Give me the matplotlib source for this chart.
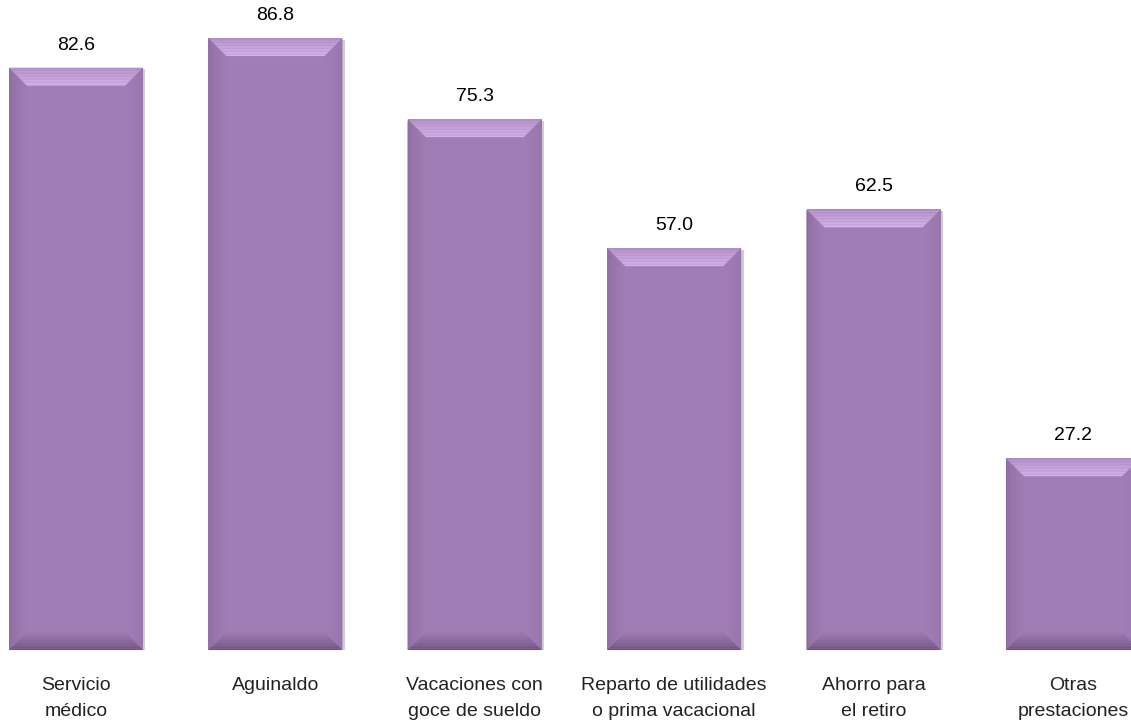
import matplotlib.pyplot as plt
from matplotlib.patches import Polygon
import numpy as np

categories = ['Servicio\nmédico', 'Aguinaldo', 'Vacaciones con\ngoce de sueldo',
              'Reparto de utilidades\no prima vacacional', 'Ahorro para\nel retiro',
              'Otras\nprestaciones']
values = [82.6, 86.8, 75.3, 57.0, 62.5, 27.2]

plt.rcParams['font.family'] = ['Liberation Sans', 'DejaVu Sans']

fig = plt.figure(figsize=(11.31, 7.21), dpi=100)
ax = fig.add_axes([0, 71 / 721, 1, 650 / 721])

x = np.arange(len(values))
width = 0.672
face = '#a07db5'

px_x = 199.4   # pixels per x unit
px_y = 7.05    # pixels per value unit

# soft grey shadow / border
ax.bar(x + 1 / px_x, values, width=width + 3 / px_x, bottom=-1.5 / px_y,
       color='#d0cdd2', lw=0, zorder=1)
ax.bar(x, values, width=width, color=face, lw=0, zorder=2)

dx = 18 / px_x
dy = 18 / px_y


def mix(c0, c1, t):
    c = np.array(c0) * (1 - t) + np.array(c1) * t
    return '#%02x%02x%02x' % tuple(int(round(ci)) for ci in c)


n = 12
for xi, v in zip(x, values):
    x0, x1 = xi - width / 2, xi + width / 2
    for k in range(n):
        t0, t1 = k / n, (k + 1) / n
        tm = (t0 + t1) / 2
        # left side
        ax.add_patch(Polygon([(x0 + dx * t0, dy * t0), (x0 + dx * t0, v - dy * t0),
                              (x0 + dx * t1, v - dy * t1), (x0 + dx * t1, dy * t1)],
                             closed=True, color=mix((0x8a, 0x6a, 0x9e), (0xa0, 0x7d, 0xb5), tm ** 0.6),
                             lw=0, zorder=3))
        # right side
        ax.add_patch(Polygon([(x1 - dx * t0, dy * t0), (x1 - dx * t0, v - dy * t0),
                              (x1 - dx * t1, v - dy * t1), (x1 - dx * t1, dy * t1)],
                             closed=True, color=mix((0x96, 0x74, 0xab), (0xa0, 0x7d, 0xb5), tm ** 0.6),
                             lw=0, zorder=3))
        # top bevel, lighter towards the inner edge
        ax.add_patch(Polygon([(x0 + dx * t0, v - dy * t0), (x1 - dx * t0, v - dy * t0),
                              (x1 - dx * t1, v - dy * t1), (x0 + dx * t1, v - dy * t1)],
                             closed=True, color=mix((0xb0, 0x8c, 0xc4), (0xd6, 0xb2, 0xea), tm ** 0.7),
                             lw=0, zorder=4))
        # bottom bevel, darker towards the outer edge
        ax.add_patch(Polygon([(x0 + dx * t0, dy * t0), (x1 - dx * t0, dy * t0),
                              (x1 - dx * t1, dy * t1), (x0 + dx * t1, dy * t1)],
                             closed=True, color=mix((0x6c, 0x4f, 0x7e), (0x9e, 0x7b, 0xb3), tm ** 0.8),
                             lw=0, zorder=4))
    ax.text(xi, v + 14 / px_y, f'{v:.1f}', ha='center', va='bottom', fontsize=14, color='black')

for xi, lab in zip(x, categories):
    ax.text(xi, -27 / px_y, lab, ha='center', va='top', fontsize=14, color='#222222',
            linespacing=1.68, clip_on=False)

ax.set_xlim(-76 / px_x, (1131 - 76) / px_x)
ax.set_ylim(0, 650 / px_y)
ax.axis('off')

fig.savefig('out.png', dpi=100)
